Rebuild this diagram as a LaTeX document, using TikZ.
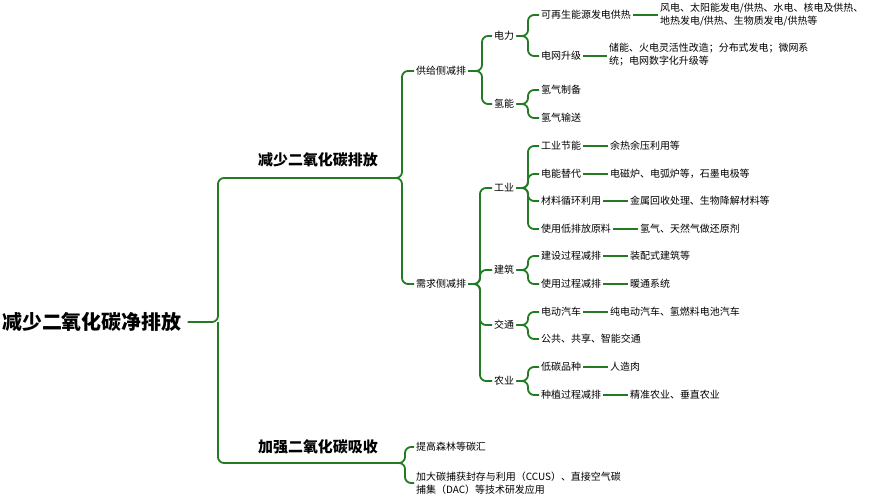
\documentclass[tikz,border=0pt]{standalone}
\usepackage{fontspec}
\setmainfont{Noto Sans CJK SC}
\definecolor{gr}{RGB}{34,122,34}
\begin{document}
\begin{tikzpicture}[x=1bp,y=-1bp,
  ln/.style={draw=gr,line width=1.8bp,rounded corners=6bp},
  t/.style={anchor=west,inner sep=2bp,font=\fontsize{10}{13}\selectfont,align=left},
  l1/.style={anchor=west,inner sep=0pt,font=\fontsize{15}{18}\selectfont\bfseries},
  rt/.style={anchor=west,inner sep=0pt,font=\fontsize{20}{24}\selectfont\bfseries}]
\useasboundingbox (0,0) rectangle (878,502);
\node[rt] (root) at (2,322) {减少二氧化碳净排放};
\node[l1] (a) at (258,160) {减少二氧化碳排放};
\node[l1] (b) at (258,447) {加强二氧化碳吸收};
\coordinate (ae) at (398,178);
\coordinate (be) at (398,463);
\draw[ln] (root.east) ++(6,0) -- (218,322) |- (ae);
\draw[ln] (218,322) |- (be);
% level 2
\node[t] (s) at (414,71) {供给侧减排};
\node[t] (d) at (414,284) {需求侧减排};
\node[t] (f) at (414,447) {提高森林等碳汇};
\node[t] (g) at (414,483) {加大碳捕获封存与利用（CCUS）、直接空气碳\\捕集（DAC）等技术研发应用};
\foreach \c in {s,d} \draw[ln] (ae) -- (402,178) |- (\c.west);
\foreach \c in {f,g} \draw[ln] (be) -- (405,463) |- (\c.west);
% level 3
\node[t] (dl) at (492,36) {电力};
\node[t] (qn) at (492,104) {氢能};
\node[t] (gy) at (492,188) {工业};
\node[t] (jz) at (492,270) {建筑};
\node[t] (jt) at (492,325) {交通};
\node[t] (ny) at (492,381) {农业};
\foreach \c in {dl,qn} \draw[ln] (s.east) -- (482,71) |- (\c.west);
\foreach \c in {gy,jz,jt,ny} \draw[ln] (d.east) -- (480,284) |- (\c.west);
% level 4
\node[t] (k1) at (539,15) {可再生能源发电供热};
\node[t] (k2) at (539,56) {电网升级};
\node[t] (k3) at (539,90) {氢气制备};
\node[t] (k4) at (539,118) {氢气输送};
\node[t] (g1) at (539,146) {工业节能};
\node[t] (g2) at (539,174) {电能替代};
\node[t] (g3) at (539,201) {材料循环利用};
\node[t] (g4) at (539,229) {使用低排放原料};
\node[t] (j1) at (539,256) {建设过程减排};
\node[t] (j2) at (539,284) {使用过程减排};
\node[t] (t1) at (539,312) {电动汽车};
\node[t] (t2) at (539,339) {公共、共享、智能交通};
\node[t] (n1) at (539,367) {低碳品种};
\node[t] (n2) at (539,395) {种植过程减排};
\foreach \c in {k1,k2} \draw[ln] (dl.east) -- (528,36) |- (\c.west);
\foreach \c in {k3,k4} \draw[ln] (qn.east) -- (528,104) |- (\c.west);
\foreach \c in {g1,g2,g3,g4} \draw[ln] (gy.east) -- (528,188) |- (\c.west);
\foreach \c in {j1,j2} \draw[ln] (jz.east) -- (528,270) |- (\c.west);
\foreach \c in {t1,t2} \draw[ln] (jt.east) -- (528,325) |- (\c.west);
\foreach \c in {n1,n2} \draw[ln] (ny.east) -- (528,381) |- (\c.west);
% leaves
\node[t] (x1) at (658,15) {风电、太阳能发电/供热、水电、核电及供热、\\地热发电/供热、生物质发电/供热等};
\node[t] (x2) at (607,55) {储能、火电灵活性改造；分布式发电；微网系\\统；电网数字化升级等};
\node[t] (y1) at (608,146) {余热余压利用等};
\node[t] (y2) at (608,174) {电磁炉、电弧炉等，石墨电极等};
\node[t] (y3) at (628,201) {金属回收处理、生物降解材料等};
\node[t] (y4) at (638,229) {氢气、天然气做还原剂};
\node[t] (z1) at (628,256) {装配式建筑等};
\node[t] (z2) at (628,284) {暖通系统};
\node[t] (w1) at (608,312) {纯电动汽车、氢燃料电池汽车};
\node[t] (v1) at (608,367) {人造肉};
\node[t] (v2) at (628,395) {精准农业、垂直农业};
\foreach \p/\c in {k1/x1,k2/x2,g1/y1,g2/y2,g3/y3,g4/y4,j1/z1,j2/z2,t1/w1,n1/v1,n2/v2}
  \draw[ln] (\p.east) -- (\p.east -| \c.west);
\end{tikzpicture}
\end{document}
